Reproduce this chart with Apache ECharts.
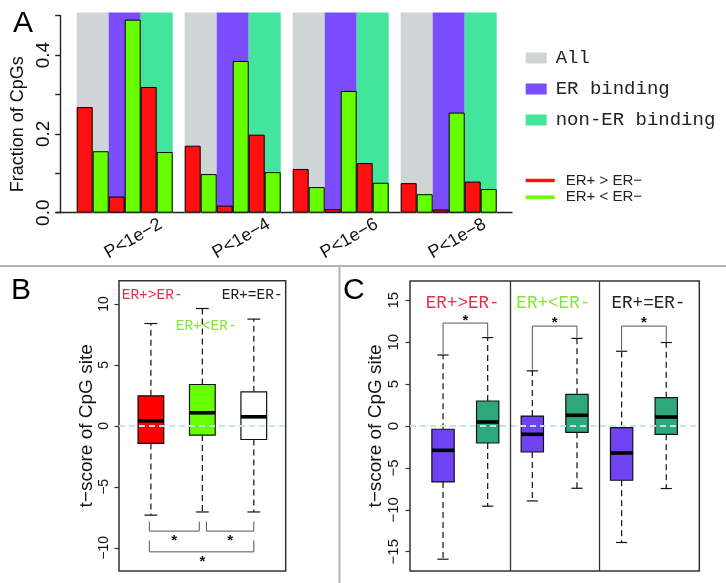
<!DOCTYPE html>
<html>
<head>
<meta charset="utf-8">
<script src="https://cdn.jsdelivr.net/npm/echarts@6/dist/echarts.min.js"></script>
<style>html,body{margin:0;padding:0;background:#fff;}#c{width:726px;height:583px;}</style>
</head>
<body>
<div id="c"></div>
<script>
// ---------- Panel A data ----------
const catsA = ['P<1e\u22122', 'P<1e\u22124', 'P<1e\u22126', 'P<1e\u22128'];
const bgNames = ['All', 'ER binding', 'non-ER binding'];
const bgTop = [0.508, 0.508, 0.508, 0.508];
const upAll   = [0.268, 0.170, 0.111, 0.075];
const downAll = [0.156, 0.098, 0.065, 0.047];
const upER    = [0.041, 0.018, 0.009, 0.008];
const downER  = [0.490, 0.385, 0.309, 0.254];
const upNon   = [0.319, 0.198, 0.126, 0.079];
const downNon = [0.154, 0.103, 0.076, 0.060];
const upName = 'ER+ > ER\u2212';
const downName = 'ER+ < ER\u2212';
const yTicksA = [0, 0.2, 0.4];

// ---------- Panel B data: [lowerWhisker, Q1, median, Q3, upperWhisker] ----------
const bBoxes = [
  [-7.32, -1.44, 0.41, 2.46, 8.39],
  [-7.06, -0.76, 1.07, 3.39, 9.62],
  [-7.06, -1.12, 0.74, 2.79, 8.75]
];
const bTicks = [-10, -5, 0, 5, 10];
const bLabels = ['ER+>ER-', 'ER+<ER-', 'ER+=ER-'];
const bLabelPos = [[0.432, 10.71], [1.482, 8.17], [3.56, 10.71]];
// brackets: [x1, x2, yBar, yEndLeft, yEndRight]
const bBrackets = [
  [0.97, 1.94, -8.63, -7.85, -7.85],
  [2.08, 3.00, -8.63, -7.85, -7.85],
  [0.97, 3.00, -10.33, -9.40, -9.40]
];
const bStars = [[1.45, -9.2], [2.54, -9.2], [2.0, -10.9]];

// ---------- Panel C data ----------
const cBoxes = [
  [-15.89, -6.67, -2.90, -0.39, 8.47],
  [-9.57, -2.03, 0.48, 2.98, 10.55],
  [-8.94, -3.10, -0.99, 1.19, 6.58],
  [-7.43, -0.75, 1.28, 3.78, 10.45],
  [-13.90, -6.47, -3.22, -0.19, 8.92],
  [-7.46, -0.99, 1.07, 3.38, 9.96]
];
const cTicks = [-15, -10, -5, 0, 5, 10, 15];
const cLabels = ['ER+>ER-', 'ER+<ER-', 'ER+=ER-'];
const cLabelPos = [[1.44, 14.59], [3.47, 14.59], [5.6, 14.59]];
const cBrackets = [
  [1, 2, 12.28, 8.6, 10.65],
  [3, 4, 11.92, 6.7, 10.55],
  [5, 6, 11.92, 9.05, 10.05]
];
const cStars = [[1.5, 12.87], [3.5, 12.72], [5.5, 12.72]];
const cSplits = [2.5, 4.5];

// ---------- styles ----------
const bgColors = ['#cfd4d4', '#7b4cfb', '#42e59b'];
const RED = '#ff1010', GREEN = '#66ff00';
const bBoxColors = ['#ff0000', '#66ff00', '#ffffff'];
const cBoxColors = ['#6f42f3', '#2ca87a', '#6f42f3', '#2ca87a', '#6f42f3', '#2ca87a'];
const labelColors = ['#e8304a', '#80e63a', '#222222'];
const SANS = 'Liberation Sans, Arial, sans-serif';
const MONO = 'Liberation Mono, Courier New, monospace';
const minusFmt = v => (v < 0 ? '\u2212' + Math.abs(v) : String(v));

function boxRenderer(colors) {
  return function (params, api) {
    const x = api.value(0);
    const lw = api.value(1), q1 = api.value(2), med = api.value(3), q3 = api.value(4), uw = api.value(5);
    const hw = 0.25, cw = 0.125;
    const tl = api.coord([x - hw, q3]), br = api.coord([x + hw, q1]);
    const dash = {stroke: '#111', lineWidth: 1.2, lineDash: [6, 4]};
    const solid = {stroke: '#111', lineWidth: 1.2};
    const p = (a, b) => api.coord([a, b]);
    return {
      type: 'group',
      children: [
        {type: 'line', shape: {x1: p(x, q3)[0], y1: p(x, q3)[1], x2: p(x, uw)[0], y2: p(x, uw)[1]}, style: dash},
        {type: 'line', shape: {x1: p(x, q1)[0], y1: p(x, q1)[1], x2: p(x, lw)[0], y2: p(x, lw)[1]}, style: dash},
        {type: 'line', shape: {x1: p(x - cw, uw)[0], y1: p(x - cw, uw)[1], x2: p(x + cw, uw)[0], y2: p(x + cw, uw)[1]}, style: solid},
        {type: 'line', shape: {x1: p(x - cw, lw)[0], y1: p(x - cw, lw)[1], x2: p(x + cw, lw)[0], y2: p(x + cw, lw)[1]}, style: solid},
        {type: 'rect', shape: {x: tl[0], y: tl[1], width: br[0] - tl[0], height: br[1] - tl[1]},
          style: {fill: colors[params.dataIndex], stroke: '#111', lineWidth: 1.2}},
        {type: 'line', shape: {x1: p(x - hw, med)[0], y1: p(x - hw, med)[1], x2: p(x + hw, med)[0], y2: p(x + hw, med)[1]},
          style: {stroke: '#000', lineWidth: 3.6}}
      ]
    };
  };
}
function bracketRenderer(params, api) {
  const x1 = api.value(0), x2 = api.value(1), yb = api.value(2), yl = api.value(3), yr = api.value(4);
  return {type: 'polyline', shape: {points: [api.coord([x1, yl]), api.coord([x1, yb]), api.coord([x2, yb]), api.coord([x2, yr])]},
    style: {stroke: '#555', lineWidth: 1, fill: null}};
}
function starRenderer(params, api) {
  const pt = api.coord([api.value(0), api.value(1)]);
  return {type: 'text', x: pt[0], y: pt[1] + 3, style: {text: '*', fill: '#111', font: 'bold 15px ' + SANS, align: 'center', verticalAlign: 'middle'}};
}
function labelRenderer(texts, size, aligns) {
  return function (params, api) {
    const pt = api.coord([api.value(0), api.value(1)]);
    const i = params.dataIndex;
    return {type: 'text', x: pt[0], y: pt[1], style: {text: texts[i], fill: labelColors[i], font: size + 'px ' + MONO,
      align: aligns[i], verticalAlign: 'middle'}};
  };
}

const chart = echarts.init(document.getElementById('c'), null, {renderer: 'canvas'});

const barSeries = [
  [upAll, upName, RED], [downAll, downName, GREEN],
  [upER, upName, RED], [downER, downName, GREEN],
  [upNon, upName, RED], [downNon, downName, GREEN]
].map(([d, n, col]) => ({
  type: 'bar', name: n, xAxisIndex: 0, yAxisIndex: 0, data: d, barWidth: 16, barGap: '0%',
  itemStyle: {color: col, borderColor: '#000', borderWidth: 1}, z: 3, silent: true
}));
const bgSeries = bgNames.map((n, i) => ({
  type: 'bar', name: n, xAxisIndex: 1, yAxisIndex: 0, data: bgTop, barWidth: 32, barGap: '0%',
  itemStyle: {color: bgColors[i]}, z: 1, clip: false, silent: true
}));

const option = {
  animation: false,
  backgroundColor: '#fff',
  textStyle: {fontFamily: SANS},
  grid: [
    {left: 70.7, top: 15.7, width: 432, height: 197},
    {left: 56, top: 15.7, width: 456, height: 197},
    {left: 119, top: 280.7, width: 166.7, height: 290.3, show: true, borderColor: '#333', borderWidth: 1.5},
    {left: 410, top: 281, width: 289.3, height: 290, show: true, borderColor: '#333', borderWidth: 1.5}
  ],
  legend: [
    {data: bgNames, orient: 'vertical', left: 520.7, top: 43.5, icon: 'rect', itemWidth: 21, itemHeight: 11, itemGap: 12,
      selectedMode: false, itemStyle: {borderWidth: 0},
      textStyle: {fontFamily: MONO, fontSize: 19, lineHeight: 19, color: '#222', padding: [0, 0, 0, 4]}},
    {data: [upName, downName], orient: 'vertical', left: 520.7, top: 168, icon: 'rect', itemWidth: 29, itemHeight: 3.5, itemGap: 1.7,
      selectedMode: false, itemStyle: {borderWidth: 0},
      textStyle: {fontFamily: SANS, fontSize: 15, lineHeight: 15, color: '#222', padding: [0, 0, 0, 6]}}
  ],
  xAxis: [
    {type: 'category', gridIndex: 0, data: catsA, axisLine: {show: false}, axisTick: {show: false},
      axisLabel: {rotate: 30, align: 'center', verticalAlign: 'middle', margin: 31, padding: [0, 0, 0, 20], fontSize: 18, color: '#111', fontFamily: SANS}},
    {type: 'category', gridIndex: 0, data: catsA, show: false},
    {type: 'value', gridIndex: 1, min: 0, max: 1, axisLine: {show: true, onZero: false, lineStyle: {color: '#222', width: 1.4}},
      axisTick: {show: false}, axisLabel: {show: false}, splitLine: {show: false}},
    {type: 'value', gridIndex: 2, min: 0.38, max: 3.62, show: false},
    {type: 'value', gridIndex: 3, min: 0.26, max: 6.74, show: false}
  ],
  yAxis: [
    {type: 'value', gridIndex: 0, min: 0, max: 0.5, interval: 0.1, offset: 10,
      axisLine: {show: true, lineStyle: {color: '#222', width: 1.4}},
      axisTick: {show: true, length: 5.5, lineStyle: {color: '#222', width: 1.4}},
      axisLabel: {customValues: yTicksA, formatter: v => v.toFixed(1), rotate: 90, fontSize: 19, margin: 7, color: '#111', fontFamily: SANS},
      splitLine: {show: false},
      name: 'Fraction of CpGs', nameLocation: 'middle', nameRotate: 90, nameGap: 31,
      nameTextStyle: {fontSize: 18, color: '#111', fontFamily: SANS, padding: [0, 20, 0, 0]}},
    {type: 'value', gridIndex: 1, min: 0, max: 1, show: false},
    {type: 'value', gridIndex: 2, min: -11.9, max: 11.9,
      axisLine: {show: false},
      axisTick: {show: true, customValues: bTicks, length: 4.5, lineStyle: {color: '#333', width: 1.2}},
      axisLabel: {customValues: bTicks, formatter: minusFmt, rotate: 90, fontSize: 14, margin: 8, color: '#111', fontFamily: SANS},
      splitLine: {show: false},
      name: 't\u2212score of CpG site', nameLocation: 'middle', nameRotate: 90, nameGap: 20.5,
      nameTextStyle: {fontSize: 19, color: '#111', fontFamily: SANS}},
    {type: 'value', gridIndex: 3, min: -17.3, max: 17.3,
      axisLine: {show: false},
      axisTick: {show: true, customValues: cTicks, length: 4.5, lineStyle: {color: '#333', width: 1.2}},
      axisLabel: {customValues: cTicks, formatter: minusFmt, rotate: 90, fontSize: 15, margin: 8.5, color: '#111', fontFamily: SANS},
      splitLine: {show: false},
      name: 't\u2212score of CpG site', nameLocation: 'middle', nameRotate: 90, nameGap: 19.5,
      nameTextStyle: {fontSize: 19, color: '#111', fontFamily: SANS}}
  ],
  series: [
    ...bgSeries,
    ...barSeries,
    {type: 'custom', xAxisIndex: 3, yAxisIndex: 2, renderItem: boxRenderer(bBoxColors),
      data: bBoxes.map((b, i) => [i + 1, ...b]), encode: {x: 0, y: [1, 2, 3, 4, 5]}, z: 3, silent: true,
      markLine: {silent: true, symbol: 'none', label: {show: false}, animation: false,
        lineStyle: {color: '#bfe5ee', type: [6, 4], width: 1.8}, data: [{yAxis: 0}]}},
    {type: 'custom', xAxisIndex: 3, yAxisIndex: 2, renderItem: bracketRenderer, data: bBrackets, encode: {x: [0, 1], y: [2, 3, 4]}, silent: true},
    {type: 'custom', xAxisIndex: 3, yAxisIndex: 2, renderItem: starRenderer, data: bStars, silent: true},
    {type: 'custom', xAxisIndex: 3, yAxisIndex: 2, renderItem: labelRenderer(bLabels, 14.5, ['left', 'left', 'right']), data: bLabelPos, silent: true, z: 5},
    {type: 'custom', xAxisIndex: 4, yAxisIndex: 3, renderItem: boxRenderer(cBoxColors),
      data: cBoxes.map((b, i) => [i + 1, ...b]), encode: {x: 0, y: [1, 2, 3, 4, 5]}, z: 3, silent: true,
      markLine: {silent: true, symbol: 'none', label: {show: false}, animation: false,
        data: [
          {yAxis: 0, lineStyle: {color: '#bfe5ee', type: [6, 4], width: 1.8}},
          ...cSplits.map(v => ({xAxis: v, lineStyle: {color: '#333', type: 'solid', width: 1.3}}))
        ]}},
    {type: 'custom', xAxisIndex: 4, yAxisIndex: 3, renderItem: bracketRenderer, data: cBrackets, encode: {x: [0, 1], y: [2, 3, 4]}, silent: true},
    {type: 'custom', xAxisIndex: 4, yAxisIndex: 3, renderItem: starRenderer, data: cStars, silent: true},
    {type: 'custom', xAxisIndex: 4, yAxisIndex: 3, renderItem: labelRenderer(cLabels, 17.6, ['center', 'center', 'center']), data: cLabelPos, silent: true, z: 5}
  ],
  graphic: [
    {type: 'line', shape: {x1: 0, y1: 266, x2: 726, y2: 266}, style: {stroke: '#b4b4b4', lineWidth: 2}, silent: true},
    {type: 'line', shape: {x1: 339.5, y1: 266, x2: 339.5, y2: 583}, style: {stroke: '#b4b4b4', lineWidth: 2}, silent: true},
    {type: 'text', x: 13, y: 24, style: {text: 'A', font: '30px ' + SANS, fill: '#000', verticalAlign: 'middle'}, silent: true},
    {type: 'text', x: 11, y: 291, style: {text: 'B', font: '30px ' + SANS, fill: '#000', verticalAlign: 'middle'}, silent: true},
    {type: 'text', x: 343, y: 291, style: {text: 'C', font: '30px ' + SANS, fill: '#000', verticalAlign: 'middle'}, silent: true}
  ]
};
chart.setOption(option);
</script>
</body>
</html>
